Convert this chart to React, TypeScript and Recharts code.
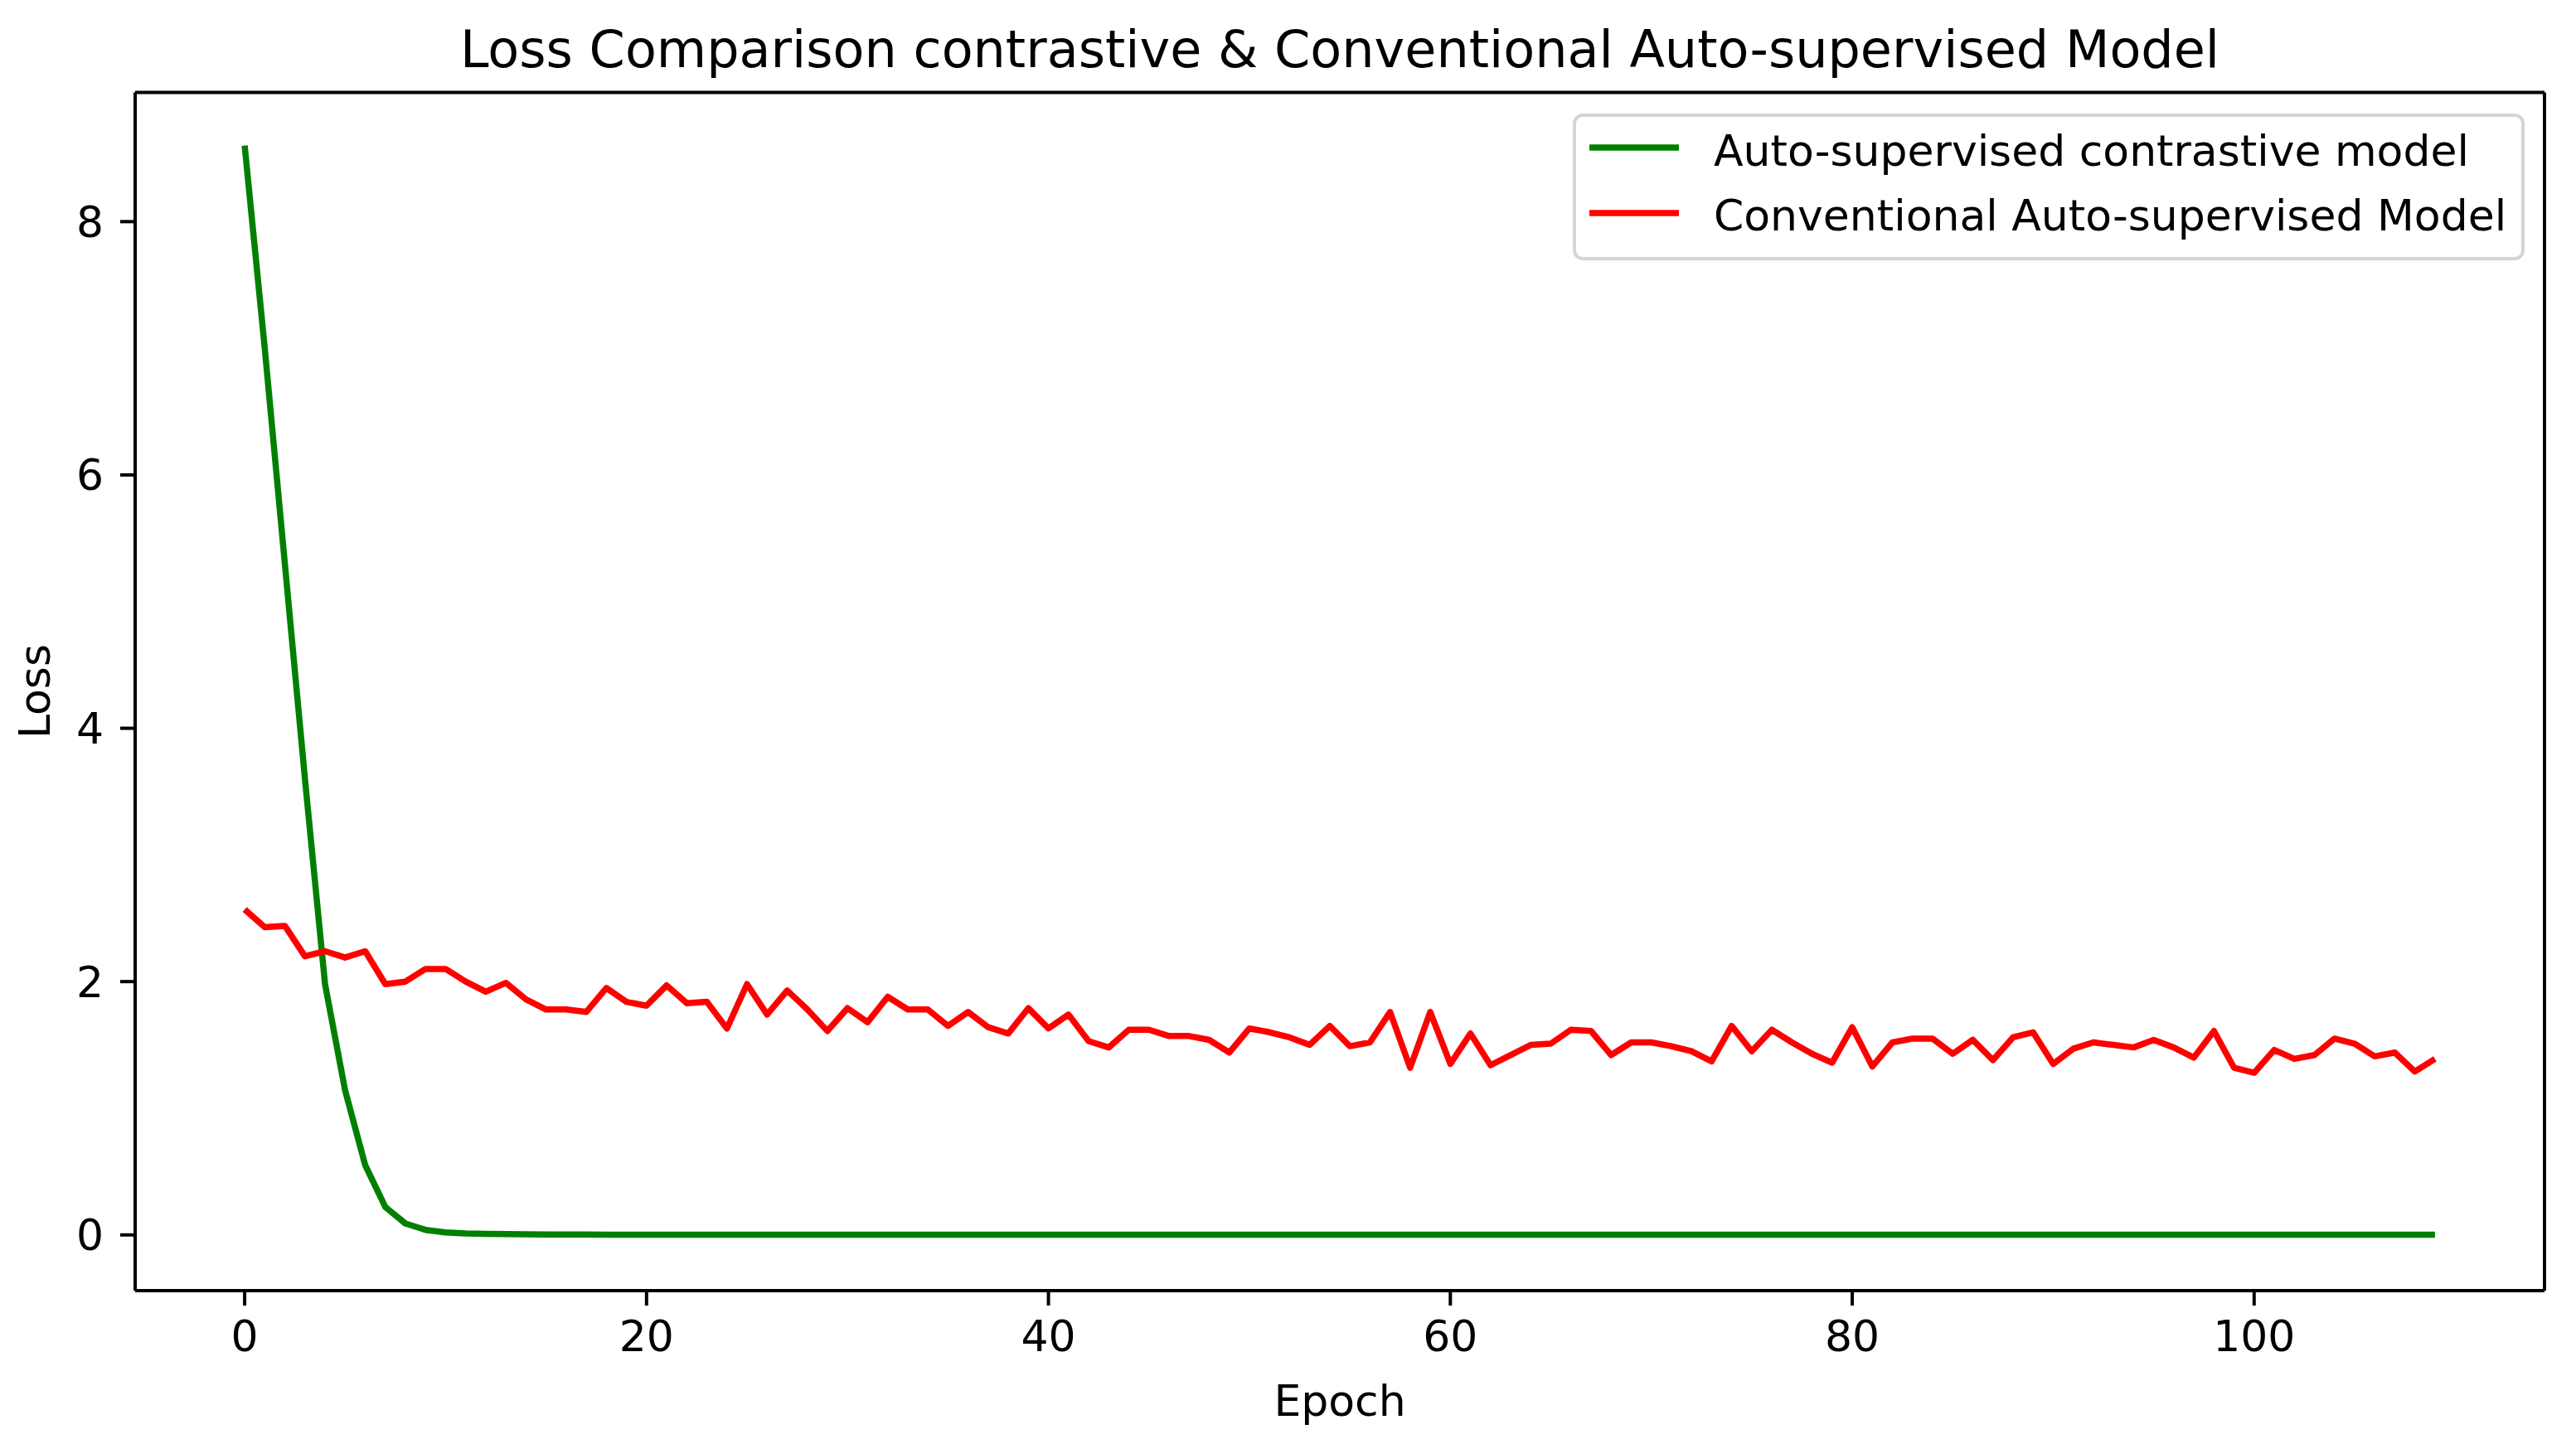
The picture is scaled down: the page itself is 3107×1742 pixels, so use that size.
import { LineChart, Line, XAxis, YAxis } from "recharts";

// epochs 0..109
const epochs = Array.from({ length: 110 }, (_, i) => i);

const contrastiveLoss = [
  8.6, 7.0, 5.3, 3.6, 1.98, 1.14, 0.55, 0.22, 0.09, 0.04,
  0.02, 0.012, 0.008, 0.006, 0.005, 0.004, 0.003, 0.003, 0.002, 0.002,
  0.002, 0.002, 0.002, 0.002, 0.002, 0.002, 0.002, 0.002, 0.002, 0.002,
  0.001, 0.001, 0.001, 0.001, 0.001, 0.001, 0.001, 0.001, 0.001, 0.001,
  0.001, 0.001, 0.001, 0.001, 0.001, 0.001, 0.001, 0.001, 0.001, 0.001,
  0.001, 0.001, 0.001, 0.001, 0.001, 0.001, 0.001, 0.001, 0.001, 0.001,
  0.001, 0.001, 0.001, 0.001, 0.001, 0.001, 0.001, 0.001, 0.001, 0.001,
  0.001, 0.001, 0.001, 0.001, 0.001, 0.001, 0.001, 0.001, 0.001, 0.001,
  0.001, 0.001, 0.001, 0.001, 0.001, 0.001, 0.001, 0.001, 0.001, 0.001,
  0.001, 0.001, 0.001, 0.001, 0.001, 0.001, 0.001, 0.001, 0.001, 0.001,
  0.001, 0.001, 0.001, 0.001, 0.001, 0.001, 0.001, 0.001, 0.001, 0.001,
];

const conventionalLoss = [
  2.57, 2.43, 2.44, 2.2, 2.24, 2.19, 2.24, 1.98, 2.0, 2.1,
  2.1, 2.0, 1.92, 1.99, 1.86, 1.78, 1.78, 1.76, 1.95, 1.84,
  1.81, 1.97, 1.83, 1.84, 1.63, 1.98, 1.74, 1.93, 1.78, 1.61,
  1.79, 1.68, 1.88, 1.78, 1.78, 1.65, 1.76, 1.64, 1.59, 1.79,
  1.63, 1.74, 1.53, 1.48, 1.62, 1.62, 1.57, 1.57, 1.54, 1.44,
  1.63, 1.6, 1.56, 1.5, 1.65, 1.49, 1.52, 1.76, 1.32, 1.76,
  1.35, 1.59, 1.34, 1.42, 1.5, 1.51, 1.62, 1.61, 1.42, 1.52,
  1.52, 1.49, 1.45, 1.37, 1.65, 1.45, 1.62, 1.52, 1.43, 1.36,
  1.64, 1.33, 1.52, 1.55, 1.55, 1.43, 1.54, 1.38, 1.56, 1.6,
  1.35, 1.47, 1.52, 1.5, 1.48, 1.54, 1.48, 1.4, 1.61, 1.32,
  1.28, 1.46, 1.39, 1.42, 1.55, 1.51, 1.41, 1.44, 1.29, 1.39,
];

const xTicks = [0, 20, 40, 60, 80, 100];
const yTicks = [0, 2, 4, 6, 8];

const seriesKeys = ["contrastive", "conventional"];
const seriesNames = [
  "Auto-supervised contrastive model",
  "Conventional Auto-supervised Model",
];
const seriesColors = ["#008000", "#ff0000"];
// second series sits on the mirrored top/right axes (same domains) so those spines get drawn
const seriesXAxis = [0, "top"];
const seriesYAxis = [0, "right"];

const rows = epochs.map((epoch, i) => ({
  epoch,
  contrastive: contrastiveLoss[i],
  conventional: conventionalLoss[i],
}));

const FONT = "DejaVu Sans";
const W = 3107;
const H = 1742;
const xDomain = [-5.45, 114.45];
const yDomain = [-0.44, 9.02];

const tickStyle = { fill: "#000", fontSize: 52, fontFamily: FONT };
const spine = { stroke: "#000", strokeWidth: 4 };

export default function App() {
  return (
    <div style={{ position: "absolute", left: 0, top: 0, width: W, height: H, background: "#fff" }}>
      <LineChart
        width={W}
        height={H}
        data={rows}
        margin={{ top: 110.5, right: 37, bottom: 85, left: 43 }}
      >
        <XAxis
          dataKey="epoch"
          type="number"
          domain={xDomain}
          ticks={xTicks}
          allowDataOverflow
          height={100}
          tickSize={18}
          tickMargin={18}
          axisLine={spine}
          tickLine={spine}
          tick={tickStyle}
        />
        <XAxis
          xAxisId="top"
          dataKey="epoch"
          orientation="top"
          type="number"
          domain={xDomain}
          allowDataOverflow
          height={1}
          tick={false}
          tickLine={false}
          axisLine={spine}
        />
        <YAxis
          type="number"
          domain={yDomain}
          ticks={yTicks}
          allowDataOverflow
          width={120}
          tickSize={18}
          tickMargin={20}
          axisLine={spine}
          tickLine={spine}
          tick={tickStyle}
        />
        <YAxis
          yAxisId="right"
          orientation="right"
          type="number"
          domain={yDomain}
          allowDataOverflow
          width={1}
          tick={false}
          tickLine={false}
          axisLine={spine}
        />
        {seriesKeys.map((key, i) => (
          <Line
            key={key}
            xAxisId={seriesXAxis[i]}
            yAxisId={seriesYAxis[i]}
            type="linear"
            dataKey={key}
            name={seriesNames[i]}
            stroke={seriesColors[i]}
            strokeWidth={7.5}
            strokeLinejoin="round"
            dot={false}
            activeDot={false}
            isAnimationActive={false}
          />
        ))}
      </LineChart>

      <svg
        width={W}
        height={H}
        style={{ position: "absolute", left: 0, top: 0, pointerEvents: "none" }}
        fontFamily={FONT}
      >
        <text x={1616} y={81} fontSize={62} textAnchor="middle" fill="#000">
          Loss Comparison contrastive &amp; Conventional Auto-supervised Model
        </text>
        <text x={1616} y={1708} fontSize={52} textAnchor="middle" fill="#000">
          Epoch
        </text>
        <text
          x={60}
          y={834}
          fontSize={52}
          textAnchor="middle"
          fill="#000"
          transform="rotate(-90 60 834)"
        >
          Loss
        </text>

        {/* legend */}
        <rect x={1899} y={139} width={1144} height={173} rx={10} fill="#fff" fillOpacity={0.8} stroke="#d4d4d4" strokeWidth={4} />
        {seriesNames.map((name, i) => (
          <g key={name}>
            <line x1={1917} x2={2025} y1={178 + i * 79} y2={178 + i * 79} stroke={seriesColors[i]} strokeWidth={7.5} />
            <text x={2067} y={200 + i * 78} fontSize={52} fill="#000">
              {name}
            </text>
          </g>
        ))}
      </svg>
    </div>
  );
}
